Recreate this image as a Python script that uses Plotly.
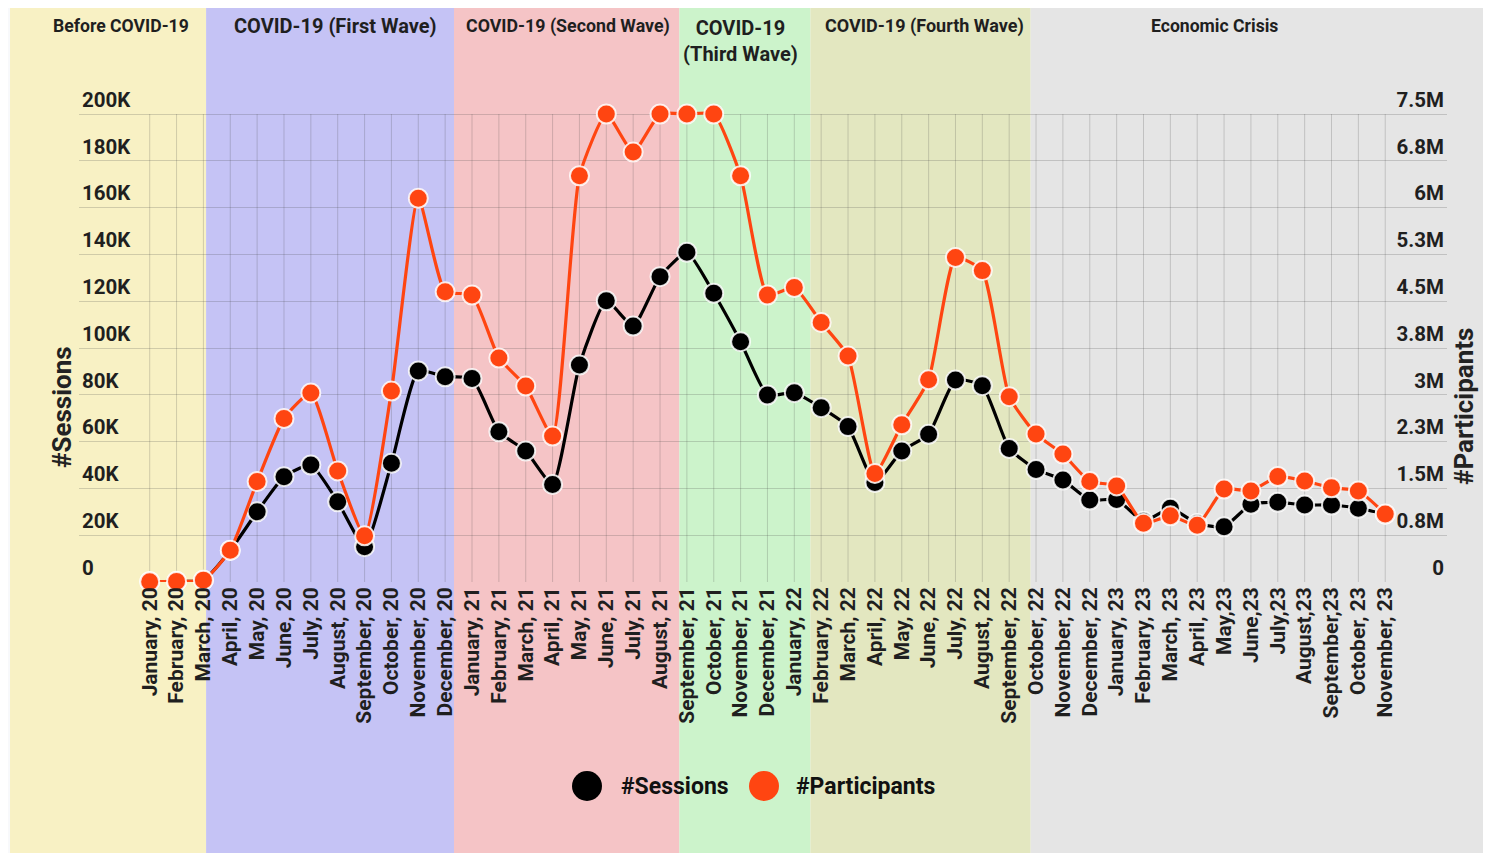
import plotly.graph_objects as go

months = [
    "January, 20", "February, 20", "March, 20", "April, 20", "May, 20", "June, 20",
    "July, 20", "August, 20", "September, 20", "October, 20", "November, 20", "December, 20",
    "January, 21", "February, 21", "March, 21", "April, 21", "May, 21", "June, 21",
    "July, 21", "August, 21", "September, 21", "October, 21", "November, 21", "December, 21",
    "January, 22", "February, 22", "March, 22", "April, 22", "May, 22", "June, 22",
    "July, 22", "August, 22", "September, 22", "October, 22", "November, 22", "December, 22",
    "January, 23", "February, 23", "March, 23", "April, 23", "May,23", "June,23",
    "July,23", "August,23", "September,23", "October, 23", "November, 23",
]

sessions = [
    200, 300, 800, 13500, 30000, 45000, 50000, 34300, 15100, 50700, 90200, 87700,
    87000, 64200, 56000, 41700, 92700, 120200, 109400, 130500, 140900, 123400, 102700, 79900,
    80900, 74500, 66400, 42500, 56000, 63100, 86300, 83900, 57100, 48100, 43600, 35000,
    35300, 26000, 31500, 25000, 23600, 33200, 34100, 32900, 32900, 31500, 29000,
]

participants = [
    5000, 10000, 30000, 510000, 1610000, 2620000, 3030000, 1780000, 740000, 3060000, 6150000, 4650000,
    4600000, 3590000, 3140000, 2340000, 6510000, 7500000, 6890000, 7500000, 7500000, 7500000, 6510000, 4600000,
    4720000, 4160000, 3620000, 1740000, 2520000, 3240000, 5200000, 4990000, 2970000, 2370000, 2050000, 1610000,
    1540000, 940000, 1060000, 910000, 1490000, 1460000, 1690000, 1620000, 1510000, 1460000, 1090000,
]

session_ticks = [0, 20000, 40000, 60000, 80000, 100000, 120000, 140000, 160000, 180000, 200000]
session_labels = ["0", "20K", "40K", "60K", "80K", "100K", "120K", "140K", "160K", "180K", "200K"]
participant_ticks = [0, 750000, 1500000, 2250000, 3000000, 3750000, 4500000, 5250000, 6000000, 6750000, 7500000]
participant_labels = ["0", "0.8M", "1.5M", "2.3M", "3M", "3.8M", "4.5M", "5.3M", "6M", "6.8M", "7.5M"]

period_names = ["Before COVID-19", "COVID-19 (First Wave)", "COVID-19 (Second Wave)",
                "COVID-19<br>(Third Wave)", "COVID-19 (Fourth Wave)", "Economic Crisis"]
# period boundaries expressed in month-index units
period_edges = [-5.2, 2.1, 11.33, 19.72, 24.6, 32.8, 50.0]
period_label_pos = [-1.07, 6.9, 15.57, 21.98, 28.86, 39.66]
period_label_size = [17.6, 20, 17.8, 20, 18, 17.6]
period_colors = ["#f8f1c4", "#c5c3f5", "#f5c4c6", "#ccf3cb", "#e3e7c0", "#e5e5e5"]

# ---- layout geometry (figure pixels) ----
W, H = 1491, 853
PLOT_L, PLOT_R = 71, 1439
GRID_TOP, PLOT_B = 106, 574      # 200K gridline and 0 gridline
PLOT_T = 56                      # extra headroom so the top tick label fits
X_RANGE = [-2.632, 48.30]
S_MAX = 200000
P_MAX = 7500000
head = (PLOT_B - PLOT_T) / (PLOT_B - GRID_TOP)

FONT = "Roboto, 'Open Sans', Arial, sans-serif"
TXT = "#1f1f1f"
grid_col = "rgba(70,70,70,0.22)"


def idx_to_paper(idx):
    return (idx - X_RANGE[0]) / (X_RANGE[1] - X_RANGE[0])


def px_x(px):
    return (px - PLOT_L) / (PLOT_R - PLOT_L)


def px_y(py):
    return (PLOT_B - py) / (PLOT_B - PLOT_T)


fig = go.Figure()

# vertical grid lines, from the 0 line up to the top tick only
gx, gy = [], []
for m in months:
    gx += [m, m, None]
    gy += [0, S_MAX, None]
fig.add_trace(go.Scatter(
    x=gx, y=gy, mode="lines", line=dict(color=grid_col, width=1),
    hoverinfo="skip", showlegend=False, yaxis="y",
))

fig.add_trace(go.Scatter(
    x=months, y=sessions, name="#Sessions", mode="lines+markers",
    line=dict(color="#000000", width=3.2, shape="spline", smoothing=0.5),
    marker=dict(size=19, color="#000000", line=dict(color="rgba(255,255,255,0.85)", width=2)),
    cliponaxis=False, yaxis="y", showlegend=False,
))
fig.add_trace(go.Scatter(
    x=months, y=participants, name="#Participants", mode="lines+markers",
    line=dict(color="#ff4511", width=3.2, shape="spline", smoothing=0.5),
    marker=dict(size=19, color="#ff4511", line=dict(color="rgba(255,255,255,0.85)", width=2)),
    cliponaxis=False, yaxis="y2", showlegend=False,
))

shapes = []
for i, col in enumerate(period_colors):
    shapes.append(dict(
        type="rect", xref="paper", yref="paper",
        x0=idx_to_paper(period_edges[i]), x1=idx_to_paper(period_edges[i + 1]),
        y0=px_y(H + 20), y1=px_y(0), fillcolor=col, line=dict(width=0), layer="below",
    ))

annotations = []
for name, pos, fs in zip(period_names, period_label_pos, period_label_size):
    two_line = "<br>" in name
    annotations.append(dict(
        x=pos, xref="x", y=px_y(33 if two_line else 18), yref="paper",
        text=name, showarrow=False, xanchor="center", yanchor="middle",
        font=dict(family=FONT, size=fs, color=TXT, weight="bold"),
    ))

annotations.append(dict(
    x=px_x(37), xref="paper", y=px_y(399), yref="paper", text="#Sessions", textangle=-90,
    showarrow=False, font=dict(family=FONT, size=26, color="#222222", weight="bold"),
))
annotations.append(dict(
    x=px_x(1473), xref="paper", y=px_y(399), yref="paper", text="#Participants", textangle=-90,
    showarrow=False, font=dict(family=FONT, size=26, color="#222222", weight="bold"),
))

# legend (large round swatches + labels)
legend_items = [("#Sessions", "#000000", 579, 611), ("#Participants", "#ff4511", 756, 786)]
for label, col, cx, tx in legend_items:
    shapes.append(dict(
        type="circle", xref="paper", yref="paper", xsizemode="pixel", ysizemode="pixel",
        xanchor=px_x(cx), yanchor=px_y(778), x0=-15, x1=15, y0=-15, y1=15,
        fillcolor=col, line=dict(width=0), layer="above",
    ))
    annotations.append(dict(
        x=px_x(tx), xref="paper", y=px_y(778), yref="paper", text=label,
        showarrow=False, xanchor="left", yanchor="middle",
        font=dict(family=FONT, size=23, color="#111111", weight="bold"),
    ))

fig.update_layout(
    width=W, height=H,
    margin=dict(l=PLOT_L, r=W - PLOT_R, t=PLOT_T, b=H - PLOT_B),
    paper_bgcolor="#f8f9fb",
    plot_bgcolor="rgba(0,0,0,0)",
    shapes=shapes,
    annotations=annotations,
    showlegend=False,
    xaxis=dict(
        type="category", range=X_RANGE, tickangle=-90,
        showgrid=False, showline=False, zeroline=False, ticks="",
        tickfont=dict(family=FONT, size=21, color=TXT, weight="bold"),
        automargin=False,
    ),
    yaxis=dict(
        range=[0, S_MAX * head], tickvals=session_ticks, ticktext=session_labels,
        ticklabelposition="inside top",
        showgrid=True, gridcolor=grid_col, gridwidth=1,
        showline=False, zeroline=False, ticks="",
        tickfont=dict(family=FONT, size=20.5, color=TXT, weight="bold"),
        automargin=False,
    ),
    yaxis2=dict(
        range=[0, P_MAX * head], tickvals=participant_ticks, ticktext=participant_labels,
        overlaying="y", side="right", ticklabelposition="inside top",
        showgrid=False, showline=False, zeroline=False, ticks="",
        tickfont=dict(family=FONT, size=20.5, color=TXT, weight="bold"),
        automargin=False,
    ),
)

fig.write_html("out.html")
